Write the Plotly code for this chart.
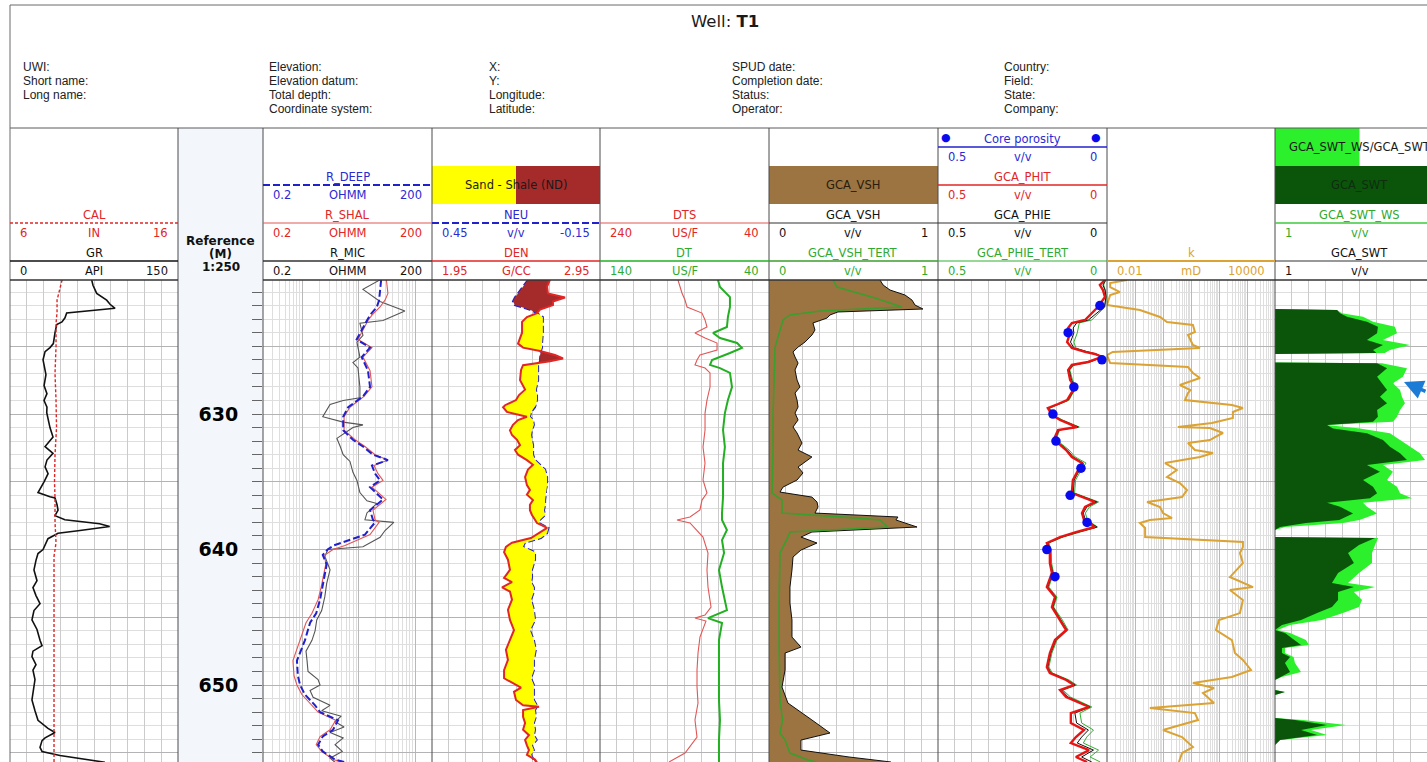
import plotly.graph_objects as go

# ---------------- log curves (depth in metres) ----------------
GR_DEPTH = [620.1, 620.5, 621.1, 621.6, 621.9, 622.2, 622.55, 622.9, 623.2, 623.4, 624.0, 624.8, 625.1, 625.4,
            626.0, 626.5, 627.1, 627.9, 628.5, 629.0, 629.5, 629.9, 630.4, 631.0, 631.7, 632.4, 632.9, 633.4,
            633.9, 634.4, 635.0, 635.6, 635.8, 636.1, 636.2, 636.7, 637.1, 637.5, 637.8, 638.1, 638.3, 638.6,
            638.8, 639.2, 639.7, 640.0, 640.3, 640.8, 641.5, 642.3, 642.8, 643.4, 644.0, 644.5, 645.2, 645.9,
            646.7, 647.1, 647.5, 647.9, 648.5, 648.9, 649.6, 650.4, 651.1, 651.9, 652.6, 653.2, 653.5, 653.9,
            654.1, 654.6, 654.9, 655.2, 655.5, 655.7]
GR = [72.9, 74.1, 77.4, 86.3, 89.3, 93.8, 50.6, 49.1, 46.4, 41.7, 40.2, 38.7, 35.7, 31.3, 29.5, 30.4, 32.1,
      30.4, 33.0, 30.4, 33.0, 32.8, 34.0, 35.7, 38.4, 31.3, 38.4, 33.0, 31.3, 34.0, 30.4, 26.8, 25.0, 35.7,
      40.2, 42.0, 42.9, 40.2, 49.0, 80.0, 89.0, 62.5, 42.9, 33.9, 31.3, 29.5, 25.0, 23.2, 21.4, 24.1, 20.5,
      23.2, 26.8, 21.4, 19.6, 24.1, 26.8, 28.6, 20.5, 19.6, 23.2, 20.5, 22.3, 20.5, 19.6, 22.3, 25.0, 33.9,
      40.2, 31.3, 28.6, 26.8, 28.6, 44.6, 71.4, 84.8]

CAL_DEPTH = [620.1, 620.8, 621.6, 622.5, 623.3, 625.0, 627.0, 629.0, 631.0, 633.0, 635.0, 636.2, 638.0,
             639.5, 640.5, 645.0, 650.0, 655.7]
CAL = [9.10, 8.98, 8.80, 8.80, 8.74, 8.74, 8.68, 8.74, 8.77, 8.68, 8.65, 8.68, 8.68, 8.74, 8.62, 8.62,
       8.62, 8.62]

RES_DEPTH = [620.1, 621.1, 621.6, 622.1, 622.7, 623.1, 623.8, 624.5, 625.1, 625.8, 626.8, 628.0, 628.7,
             629.5, 630.2, 631.2, 631.9, 632.4, 633.0, 633.4, 633.8, 634.4, 634.9, 635.4, 636.3, 637.1,
             637.8, 638.0, 638.9, 639.7, 640.0, 640.4, 641.1, 641.9, 642.8, 643.7, 644.7, 645.4, 646.7,
             648.2, 649.3, 650.0, 650.7, 651.5, 652.0, 652.6, 653.3, 653.8, 654.4, 654.9, 655.5, 655.7]
R_DEEP = [25, 23.9, 23, 21, 15.9, 14, 11.3, 9.2, 15.9, 11.3, 14.6, 15.9, 11.9, 6.5, 5.3, 5.3, 7.9, 11.9,
          17.9, 33, 17.2, 19.5, 23.9, 15.9, 27, 15.9, 17.9, 19.5, 12.9, 3.6, 2.8, 2.3, 2.7, 2.5, 2.3, 2.06,
          1.76, 1.37, 1.11, 0.8, 0.83, 0.91, 1.11, 1.68, 2.06, 4.3, 3.5, 2.3, 1.9, 2.3, 3.8, 5.7]
R_SHAL = [31, 33, 29.3, 23.9, 17.2, 14.6, 11.9, 9.7, 17.2, 11.9, 15.9, 17.2, 12.4, 7, 5.5, 5.5, 8.6, 12.9,
          19.5, 33, 18.7, 22, 27, 17.2, 30.5, 17.9, 19.5, 23, 15.9, 5.7, 3.5, 2.5, 2.6, 2.4, 2.15, 1.9,
          1.48, 1.16, 0.91, 0.68, 0.71, 0.8, 0.98, 1.48, 1.9, 3.9, 3.1, 2.06, 1.76, 2.2, 3.5, 5.3]

MIC_DEPTH = [620.1, 620.8, 621.7, 622.4, 623.1, 623.3, 624.2, 624.7, 625.8, 626.2, 626.6, 628.0, 628.8,
             629.0, 629.3, 630.2, 630.6, 630.8, 631.0, 631.8, 632.4, 633.0, 633.5, 634.3, 634.9, 635.8,
             636.4, 636.6, 637.3, 637.8, 638.0, 638.6, 639.1, 639.8, 640.0, 640.5, 641.5, 642.5, 643.5,
             644.5, 645.2, 646.0, 646.7, 647.5, 648.2, 649.0, 649.6, 650.0, 650.4, 650.9, 651.5, 651.9,
             652.3, 652.7, 653.1, 653.5, 653.9, 654.4, 654.9, 655.4, 655.7]
R_MIC = [23.9, 11.9, 23.9, 66, 27, 10.5, 11.9, 9.3, 10.5, 7.9, 9.7, 10.5, 10.5, 5.3, 3.1, 2.3, 5.3, 11.9,
         7.9, 4.1, 4.7, 5.3, 7.0, 7.9, 9.3, 10.5, 14, 21, 14, 12.9, 42, 29.3, 24, 11.9, 2.85, 2.5, 3.1, 2.7,
         2.5, 2.2, 1.8, 1.68, 1.48, 1.16, 1.21, 1.26, 1.9, 2.06, 1.37, 1.55, 3.1, 2.2, 4.9, 3.8, 5.5, 3.1,
         5.3, 3.8, 5.1, 3.1, 3.8]

ND_DEPTH = [620.1, 620.6, 621.1, 621.4, 621.7, 621.96, 622.3, 622.55, 622.85, 623.2, 624.0, 624.8, 625.1,
            625.35, 625.65, 625.9, 626.1, 626.4, 626.75, 627.5, 628.2, 628.6, 628.97, 629.35, 629.5, 629.85,
            630.2, 630.45, 630.8, 631.2, 631.55, 631.9, 632.3, 632.65, 633.0, 633.4, 633.75, 634.1, 634.65,
            635.25, 635.6, 635.95, 636.35, 636.7, 637.1, 637.45, 637.8, 638.05, 638.4, 638.8, 639.15, 639.5,
            639.8, 640.2, 640.75, 641.5, 642.1, 642.4, 642.8, 643.1, 643.7, 644.45, 645.2, 645.95, 646.7,
            647.4, 648.15, 648.9, 649.5, 650.0, 650.2, 650.5, 651.1, 651.5, 651.6, 651.85, 652.35, 652.8,
            653.3, 653.7, 654.05, 654.45, 654.8, 655.15, 655.5, 655.7]
DEN = [2.652, 2.635, 2.640, 2.742, 2.670, 2.670, 2.593, 2.575, 2.515, 2.486, 2.486, 2.462, 2.492, 2.593,
       2.682, 2.730, 2.652, 2.492, 2.480, 2.474, 2.504, 2.468, 2.450, 2.385, 2.373, 2.396, 2.515, 2.462,
       2.432, 2.414, 2.426, 2.456, 2.474, 2.444, 2.462, 2.515, 2.551, 2.521, 2.504, 2.515, 2.533, 2.515,
       2.551, 2.533, 2.533, 2.545, 2.563, 2.575, 2.635, 2.587, 2.539, 2.426, 2.390, 2.379, 2.402, 2.414,
       2.379, 2.426, 2.367, 2.414, 2.426, 2.402, 2.414, 2.438, 2.414, 2.390, 2.402, 2.379, 2.379, 2.450,
       2.480, 2.438, 2.450, 2.492, 2.587, 2.492, 2.492, 2.504, 2.492, 2.527, 2.504, 2.515, 2.527, 2.515,
       2.563, 2.575]
NEU = [0.107, 0.125, 0.143, 0.154, 0.161, 0.154, 0.100, 0.075, 0.054, 0.054, 0.054, 0.057, 0.057, 0.061,
       0.064, 0.064, 0.064, 0.071, 0.071, 0.071, 0.079, 0.075, 0.075, 0.079, 0.082, 0.096, 0.100, 0.089,
       0.086, 0.093, 0.096, 0.093, 0.089, 0.089, 0.089, 0.082, 0.064, 0.046, 0.039, 0.039, 0.043, 0.043,
       0.046, 0.046, 0.050, 0.046, 0.064, 0.068, 0.034, 0.039, 0.061, 0.118, 0.125, 0.082, 0.082, 0.093,
       0.093, 0.096, 0.086, 0.086, 0.096, 0.086, 0.082, 0.100, 0.086, 0.079, 0.086, 0.086, 0.096, 0.086,
       0.086, 0.086, 0.086, 0.075, 0.075, 0.082, 0.079, 0.086, 0.082, 0.086, 0.076, 0.093, 0.086, 0.096,
       0.086, 0.082]

DTS_DEPTH = [620.11, 620.63, 621.07, 621.59, 622.10, 622.55, 623.06, 623.58, 624.02, 624.39, 624.76, 625.28,
             625.65, 626.01, 626.38, 626.61, 626.97, 628.01, 628.97, 629.93, 631.18, 632.44, 633.62, 634.87,
             635.83, 636.35, 637.08, 637.60, 637.82, 638.04, 639.08, 640.26, 641.51, 642.77, 644.24, 644.83,
             645.06, 645.28, 646.46, 647.64, 648.89, 650.15, 651.33, 652.58, 653.84, 655.02, 655.68]
DTS = [147.7, 145.3, 143.0, 139.4, 137.0, 119.3, 115.7, 113.4, 127.6, 115.7, 101.5, 101.5, 121.7, 125.2,
       127.6, 115.7, 109.8, 109.8, 113.4, 115.7, 115.7, 118.1, 115.7, 118.1, 113.4, 119.3, 121.7, 133.5,
       148.9, 133.5, 118.1, 112.2, 113.4, 112.2, 108.6, 115.7, 127.6, 114.6, 121.7, 124.0, 125.2, 125.2,
       124.0, 127.6, 125.2, 139.4, 158.3]

DT_DEPTH = [620.11, 620.63, 621.37, 622.10, 622.84, 623.58, 624.02, 624.39, 624.76, 625.13, 625.50, 626.01,
            626.38, 626.61, 626.97, 628.01, 628.97, 629.93, 631.18, 632.44, 633.62, 634.87, 636.13, 637.31,
            637.82, 638.56, 639.30, 640.26, 641.51, 642.77, 644.47, 645.06, 645.42, 646.68, 648.89, 651.11,
            652.58, 654.06, 655.68]
DT = [70.2, 69.0, 63.1, 63.1, 64.3, 64.9, 73.1, 69.0, 58.9, 56.0, 63.1, 73.7, 74.9, 69.0, 63.1, 61.9, 64.3,
      66.1, 67.2, 66.1, 67.2, 67.2, 67.2, 67.8, 67.8, 64.9, 67.8, 66.6, 69.6, 67.8, 64.9, 76.1, 67.8, 69.6,
      69.6, 69.6, 69.0, 69.6, 69.6]

VSH_DEPTH = [620.11, 620.48, 620.85, 621.22, 621.59, 621.96, 622.25, 622.47, 622.69, 622.92, 623.28, 623.80,
             624.17, 624.69, 625.06, 625.42, 625.79, 626.24, 626.75, 627.49, 628.01, 628.45, 628.97, 629.48,
             629.93, 630.44, 630.96, 631.40, 632.14, 632.66, 633.17, 633.91, 634.35, 634.87, 635.39, 635.76,
             636.13, 636.49, 636.86, 637.31, 637.60, 637.82, 638.34, 638.71, 639.08, 639.52, 640.04, 640.55,
             641.51, 642.77, 643.95, 645.20, 646.46, 647.20, 647.64, 648.89, 650.15, 651.33, 652.58, 653.54,
             654.06, 654.80, 655.31, 655.68]
GCA_VSH = [0.657, 0.675, 0.716, 0.805, 0.846, 0.864, 0.911, 0.408, 0.361, 0.343, 0.260, 0.272, 0.254, 0.213,
           0.172, 0.142, 0.154, 0.172, 0.154, 0.166, 0.183, 0.154, 0.166, 0.172, 0.154, 0.172, 0.142, 0.166,
           0.195, 0.172, 0.254, 0.172, 0.201, 0.166, 0.083, 0.065, 0.254, 0.284, 0.290, 0.272, 0.763, 0.751,
           0.876, 0.254, 0.189, 0.284, 0.189, 0.142, 0.136, 0.124, 0.124, 0.136, 0.136, 0.189, 0.095, 0.095,
           0.077, 0.112, 0.254, 0.361, 0.189, 0.189, 0.473, 0.722]

TERT_DEPTH = [620.11, 620.63, 621.44, 622.10, 622.40, 622.69, 623.06, 623.80, 625.06, 627.49, 629.93,
              632.44, 634.87, 635.83, 636.35, 637.31, 637.68, 637.82, 638.34, 638.71, 639.08, 640.26,
              643.73, 647.42, 651.11, 652.58, 653.54, 654.06, 655.02, 655.54, 655.68]
GCA_VSH_TERT = [0.379, 0.402, 0.627, 0.787, 0.302, 0.124, 0.083, 0.065, 0.036, 0.030, 0.024, 0.024, 0.018,
                0.018, 0.077, 0.077, 0.527, 0.657, 0.704, 0.124, 0.112, 0.065, 0.060, 0.060, 0.065, 0.080,
                0.065, 0.095, 0.124, 0.231, 0.280]

PHI_DEPTH = [620.11, 620.48, 620.85, 621.37, 622.10, 622.55, 623.06, 623.28, 623.65, 624.02, 624.69, 625.13,
             625.42, 625.57, 625.79, 626.16, 626.38, 626.75, 627.49, 628.01, 628.60, 628.97, 629.26, 629.56,
             630.07, 630.44, 630.96, 631.18, 631.70, 632.14, 632.66, 633.17, 633.62, 634.13, 634.87, 635.83,
             636.49, 636.86, 637.31, 637.82, 638.34, 638.71, 639.08, 639.52, 640.04, 641.00, 641.73, 642.77,
             643.51, 644.24, 645.20, 645.94, 646.68, 647.64, 648.67, 649.11, 649.63, 650.00, 650.37, 650.89,
             651.62, 652.07, 652.80, 653.32, 653.84, 654.28, 654.80, 655.31, 655.68]
GCA_PHIT = [0.006, 0.021, 0.012, 0.006, 0.027, 0.044, 0.065, 0.104, 0.115, 0.109, 0.118, 0.104, 0.065, 0.036,
            0.015, 0.056, 0.104, 0.115, 0.109, 0.095, 0.109, 0.118, 0.145, 0.175, 0.163, 0.139, 0.089, 0.145,
            0.154, 0.145, 0.121, 0.104, 0.074, 0.086, 0.101, 0.104, 0.036, 0.065, 0.074, 0.068, 0.036, 0.092,
            0.139, 0.178, 0.169, 0.169, 0.163, 0.178, 0.154, 0.163, 0.139, 0.121, 0.154, 0.169, 0.178, 0.169,
            0.121, 0.098, 0.139, 0.121, 0.053, 0.107, 0.107, 0.068, 0.092, 0.107, 0.053, 0.092, 0.059]
GCA_PHIE = [0.004, 0.012, 0.006, 0.003, 0.008, 0.030, 0.055, 0.090, 0.100, 0.098, 0.108, 0.098, 0.060, 0.033,
            0.013, 0.052, 0.100, 0.112, 0.105, 0.092, 0.106, 0.115, 0.142, 0.172, 0.160, 0.136, 0.085, 0.142,
            0.151, 0.142, 0.117, 0.100, 0.070, 0.082, 0.097, 0.100, 0.030, 0.060, 0.070, 0.064, 0.030, 0.085,
            0.134, 0.175, 0.167, 0.167, 0.160, 0.175, 0.151, 0.160, 0.136, 0.118, 0.151, 0.166, 0.175, 0.166,
            0.117, 0.094, 0.134, 0.115, 0.050, 0.095, 0.090, 0.055, 0.075, 0.088, 0.040, 0.075, 0.045]
GCA_PHIE_TERT = [0.004, 0.010, 0.005, 0.002, 0.006, 0.025, 0.045, 0.082, 0.085, 0.088, 0.098, 0.092, 0.058,
                 0.032, 0.012, 0.050, 0.098, 0.110, 0.102, 0.090, 0.104, 0.112, 0.140, 0.170, 0.158, 0.132,
                 0.082, 0.140, 0.148, 0.138, 0.112, 0.094, 0.062, 0.076, 0.093, 0.096, 0.025, 0.052, 0.064,
                 0.058, 0.028, 0.080, 0.130, 0.172, 0.165, 0.164, 0.158, 0.172, 0.148, 0.158, 0.132, 0.115,
                 0.148, 0.163, 0.172, 0.162, 0.112, 0.090, 0.130, 0.108, 0.045, 0.080, 0.075, 0.040, 0.060,
                 0.070, 0.025, 0.050, 0.020]

CORE_DEPTH = [622, 624, 626, 628, 630, 632, 634, 636, 638, 640, 642]
CORE_POR = [0.021, 0.115, 0.015, 0.098, 0.160, 0.151, 0.077, 0.109, 0.059, 0.178, 0.154]

K_DEPTH = [620.11, 620.33, 620.63, 621.00, 621.22, 621.96, 622.32, 622.84, 623.21, 623.43, 623.95, 624.17,
           624.91, 625.13, 625.42, 625.65, 626.24, 626.53, 626.97, 627.34, 627.86, 628.23, 628.45, 628.97,
           629.34, 629.56, 629.85, 630.30, 630.66, 630.96, 631.03, 631.40, 631.70, 631.92, 632.14, 632.66,
           632.88, 633.17, 633.62, 634.13, 634.65, 635.09, 635.61, 636.13, 636.49, 636.86, 637.31, 637.68,
           637.82, 638.04, 638.41, 639.08, 639.45, 639.82, 640.26, 641.00, 642.03, 642.77, 642.99, 643.73,
           644.69, 645.20, 645.94, 646.68, 647.64, 648.15, 648.89, 649.41, 649.85, 650.22, 650.59, 651.33,
           651.70, 652.07, 652.58, 653.32, 653.84, 654.58, 655.02, 655.68]
K = [0.052, 0.013, 0.013, 0.029, 0.013, 0.010, 0.15, 0.78, 1.39, 11.7, 13.8, 7.8, 11.7, 20.9, 0.016, 0.010,
     0.013, 7.8, 11.7, 20.9, 4.0, 9.5, 7.8, 6.1, 289, 713, 313, 313, 56, 3.4, 47.6, 139, 72, 47.6, 7.8, 13.8,
     61, 20.9, 1.18, 3.1, 1.39, 4.0, 7.2, 4.8, 0.27, 0.78, 1.0, 2.1, 0.34, 0.15, 0.23, 0.23, 713, 713, 560,
     713, 246, 1640, 246, 713, 560, 100, 78, 289, 370, 713, 1390, 289, 11.7, 66, 26.8, 66, 0.34, 13.8, 17.8,
     1.0, 4.8, 11.7, 4.8, 3.7]

SW_DEPTH = [620.11, 622.25, 622.32, 622.57, 622.82, 623.19, 623.56, 624.04, 624.54, 624.91, 625.28, 625.50,
            625.57, 626.20, 626.26, 626.63, 627.25, 627.73, 628.23, 628.72, 629.21, 629.70, 630.20, 630.57,
            630.81, 631.06, 631.42, 631.92, 632.41, 632.90, 633.39, 633.76, 634.26, 634.87, 635.36, 635.85,
            636.22, 636.55, 636.84, 637.34, 637.82, 638.04, 638.34, 638.56, 639.08, 639.15, 639.67, 640.26,
            641.00, 641.73, 642.47, 642.77, 643.14, 643.73, 644.24, 644.69, 645.20, 645.57, 645.94, 646.16,
            646.68, 647.05, 647.27, 647.64, 647.93, 648.38, 649.04, 649.41, 649.63, 650.37, 650.52, 650.74,
            652.44, 652.58, 652.95, 653.32, 653.69, 654.06, 654.43, 655.68]
GCA_SWT = [1.0, 1.0, 0.633, 0.615, 0.574, 0.456, 0.391, 0.396, 0.456, 0.361, 0.420, 0.400, 1.0, 1.0, 0.396,
           0.337, 0.396, 0.367, 0.337, 0.379, 0.337, 0.396, 0.391, 0.420, 0.692, 0.657, 0.456, 0.361, 0.320,
           0.260, 0.219, 0.456, 0.379, 0.479, 0.420, 0.396, 0.438, 0.692, 0.615, 0.538, 0.620, 0.817, 0.970,
           1.0, 1.0, 0.408, 0.503, 0.568, 0.533, 0.627, 0.663, 0.533, 0.627, 0.627, 0.663, 0.751, 0.846, 0.959,
           1.0, 0.941, 0.882, 0.846, 0.959, 0.959, 0.911, 0.941, 0.911, 0.970, 1.0, 1.0, 0.941, 1.0, 1.0, 0.882,
           0.692, 0.846, 0.751, 0.970, 1.0, 1.0]
GCA_SWT_WS = [1.0, 1.0, 0.633, 0.604, 0.479, 0.420, 0.290, 0.278, 0.361, 0.201, 0.320, 0.350, 1.0, 1.0,
              0.367, 0.219, 0.243, 0.302, 0.260, 0.249, 0.231, 0.260, 0.278, 0.302, 0.692, 0.497, 0.320, 0.260,
              0.201, 0.142, 0.112, 0.361, 0.302, 0.337, 0.278, 0.260, 0.189, 0.479, 0.456, 0.396, 0.500, 0.598,
              0.940, 1.0, 1.0, 0.390, 0.408, 0.426, 0.426, 0.503, 0.568, 0.408, 0.533, 0.485, 0.503, 0.598,
              0.722, 0.911, 0.985, 0.911, 0.817, 0.799, 0.941, 0.941, 0.890, 0.882, 0.846, 0.960, 1.0, 1.0,
              0.941, 1.0, 1.0, 0.834, 0.580, 0.787, 0.692, 0.970, 1.0, 1.0]

DEPTH_MAJOR = [620, 625, 630, 635, 640, 645, 650, 655]
DEPTH_LABELS = ['', '', '630', '', '640', '', '650', '']

WELL_NAME = 'T1'
WELL_FIELDS = [
    ['UWI:', 'Short name:', 'Long name:'],
    ['Elevation:', 'Elevation datum:', 'Total depth:', 'Coordinate system:'],
    ['X:', 'Y:', 'Longitude:', 'Latitude:'],
    ['SPUD date:', 'Completion date:', 'Status:', 'Operator:'],
    ['Country:', 'Field:', 'State:', 'Company:'],
]

# ---------------- page geometry (pixels) ----------------
FIG_W, FIG_H = 1427, 762
LEFT, TOP = 10, 280
PLOT_W, PLOT_H = FIG_W - LEFT, FIG_H - TOP
D_TOP, D_BOT = 620.11, 655.68


def fx(px):
    return (px - LEFT) / PLOT_W


def fy(py):
    return (FIG_H - py) / PLOT_H


TRACK = {
    'gr': (10, 178), 'depth': (178, 263), 'res': (263, 432), 'nd': (432, 600), 'son': (600, 769),
    'vsh': (769, 938), 'por': (938, 1107), 'perm': (1107, 1275), 'sw': (1275, 1444),
}

FONT = 'DejaVu Sans'
BLUE = '#2a2ad2'
RED = '#e02626'
RED_THIN = '#e25656'
GREEN = '#2faa2f'
ORANGE = '#dba234'
BLACK = '#111111'
VSH_FILL = '#9b7442'
SAND = '#ffff00'
SHALE = '#a52a2a'
SW_DARK = '#0a550a'
SW_LIGHT = '#2bf02b'
GRID_V = '#cbcbcb'
GRID_MAJ = '#b3b3b3'
GRID_MIN = '#dedede'
FRAME = '#4a4a4a'


def dom(key):
    a, b = TRACK[key]
    return [fx(a), min(1.0, fx(b))]


def xgrid(**kw):
    d = dict(showticklabels=False, ticks='', zeroline=False, showline=False, showgrid=True,
             gridcolor=GRID_V, gridwidth=1, fixedrange=True, automargin=False)
    d.update(kw)
    return d


def xover(base, anchor, rng):
    return dict(overlaying=base, anchor=anchor, range=rng, visible=False, showgrid=False,
                zeroline=False, fixedrange=True, automargin=False)


def ygrid(anchor, **kw):
    d = dict(domain=[0, 1], anchor=anchor, range=[D_BOT, D_TOP], tickmode='array', tickvals=DEPTH_MAJOR,
             showgrid=True, gridcolor=GRID_MAJ, gridwidth=1, showticklabels=False, ticks='',
             zeroline=False, showline=False, fixedrange=True, automargin=False,
             minor=dict(tickmode='linear', tick0=620, dtick=1, showgrid=True, gridcolor=GRID_MIN,
                        gridwidth=1))
    d.update(kw)
    return d


def split_fill(depth, a_vals, b_vals):
    """Split the band between two curves into runs where a stays on one side of b."""
    runs, cur = [], None
    for i, (d, a, b) in enumerate(zip(depth, a_vals, b_vals)):
        s = a > b
        if cur is None:
            cur = [s, [d], [a], [b]]
        elif s == cur[0]:
            cur[1].append(d)
            cur[2].append(a)
            cur[3].append(b)
        else:
            d0, a0, b0 = depth[i - 1], a_vals[i - 1], b_vals[i - 1]
            t = (a0 - b0) / ((a0 - b0) - (a - b))
            dc, ac = d0 + t * (d - d0), a0 + t * (a - a0)
            cur[1].append(dc)
            cur[2].append(ac)
            cur[3].append(ac)
            runs.append(cur)
            cur = [s, [dc, d], [ac, a], [ac, b]]
    runs.append(cur)
    return runs


fig = go.Figure()

# ---- track 1: GR / CAL ----
fig.add_trace(go.Scatter(x=CAL, y=CAL_DEPTH, xaxis='x2', yaxis='y', mode='lines',
                         line=dict(color=RED, width=1.4, dash='3px,2px'), name='CAL'))
fig.add_trace(go.Scatter(x=GR, y=GR_DEPTH, xaxis='x', yaxis='y', mode='lines',
                         line=dict(color=BLACK, width=1.6), name='GR'))

# ---- track 3: resistivity ----
fig.add_trace(go.Scatter(x=R_MIC, y=MIC_DEPTH, xaxis='x3', yaxis='y2', mode='lines',
                         line=dict(color='#555555', width=1.1), name='R_MIC'))
fig.add_trace(go.Scatter(x=R_SHAL, y=RES_DEPTH, xaxis='x3', yaxis='y2', mode='lines',
                         line=dict(color=RED_THIN, width=1.1), name='R_SHAL'))
fig.add_trace(go.Scatter(x=R_DEEP, y=RES_DEPTH, xaxis='x3', yaxis='y2', mode='lines',
                         line=dict(color='#2020cc', width=2, dash='7px,3px'), name='R_DEEP'))

# ---- track 4: neutron / density with sand-shale shading ----
neu_on_den = [1.95 + (0.45 - n) / 0.6 for n in NEU]
for shale, ys, den_side, neu_side in split_fill(ND_DEPTH, DEN, neu_on_den):
    fig.add_trace(go.Scatter(x=den_side + neu_side[::-1], y=ys + ys[::-1], xaxis='x5', yaxis='y3',
                             mode='lines', fill='toself', fillcolor=SHALE if shale else SAND,
                             line=dict(width=0), hoverinfo='skip', showlegend=False))
fig.add_trace(go.Scatter(x=DEN, y=ND_DEPTH, xaxis='x5', yaxis='y3', mode='lines',
                         line=dict(color=RED, width=2), name='DEN'))
fig.add_trace(go.Scatter(x=NEU, y=ND_DEPTH, xaxis='x4', yaxis='y3', mode='lines',
                         line=dict(color='#2222cc', width=2, dash='7px,3px'), name='NEU'))

# ---- track 5: sonic ----
fig.add_trace(go.Scatter(x=DTS, y=DTS_DEPTH, xaxis='x6', yaxis='y4', mode='lines',
                         line=dict(color=RED_THIN, width=1.1), name='DTS'))
fig.add_trace(go.Scatter(x=DT, y=DT_DEPTH, xaxis='x7', yaxis='y4', mode='lines',
                         line=dict(color='#22b022', width=2), name='DT'))

# ---- track 6: shale volume ----
fig.add_trace(go.Scatter(x=GCA_VSH, y=VSH_DEPTH, xaxis='x8', yaxis='y5', mode='lines', fill='tozerox',
                         fillcolor=VSH_FILL, line=dict(color=BLACK, width=1), name='GCA_VSH'))
fig.add_trace(go.Scatter(x=GCA_VSH_TERT, y=TERT_DEPTH, xaxis='x8', yaxis='y5', mode='lines',
                         line=dict(color='#3c9e2c', width=1.6), name='GCA_VSH_TERT'))

# ---- track 7: porosity ----
fig.add_trace(go.Scatter(x=GCA_PHIE_TERT, y=PHI_DEPTH, xaxis='x9', yaxis='y6', mode='lines',
                         line=dict(color='#30b030', width=1), name='GCA_PHIE_TERT'))
fig.add_trace(go.Scatter(x=GCA_PHIE, y=PHI_DEPTH, xaxis='x9', yaxis='y6', mode='lines',
                         line=dict(color=BLACK, width=1), name='GCA_PHIE'))
fig.add_trace(go.Scatter(x=GCA_PHIT, y=PHI_DEPTH, xaxis='x9', yaxis='y6', mode='lines',
                         line=dict(color='#e81414', width=2.4), name='GCA_PHIT'))
fig.add_trace(go.Scatter(x=CORE_POR, y=CORE_DEPTH, xaxis='x9', yaxis='y6', mode='markers',
                         marker=dict(color='#0a0aee', size=9.5), cliponaxis=False, name='Core porosity'))

# ---- track 8: permeability ----
fig.add_trace(go.Scatter(x=K, y=K_DEPTH, xaxis='x10', yaxis='y7', mode='lines',
                         line=dict(color=ORANGE, width=2), name='k'))

# ---- track 9: water saturation ----
for vals, col, nm in [(GCA_SWT_WS, SW_LIGHT, 'GCA_SWT_WS'), (GCA_SWT, SW_DARK, 'GCA_SWT')]:
    fig.add_trace(go.Scatter(x=[1.0] + vals + [1.0], y=[SW_DEPTH[0]] + SW_DEPTH + [SW_DEPTH[-1]],
                             xaxis='x11', yaxis='y8', mode='lines', fill='toself', fillcolor=col,
                             line=dict(width=0), name=nm))

# ---------------- axes ----------------
sw_right = 1 - (FIG_W - TRACK['sw'][0]) / (TRACK['sw'][1] - TRACK['sw'][0])
layout_axes = dict(
    xaxis=xgrid(domain=dom('gr'), anchor='y', range=[0, 150], tick0=0, dtick=15),
    xaxis2=xover('x', 'y', [6, 16]),
    xaxis3=xgrid(domain=dom('res'), anchor='y2', type='log', range=[-0.69897, 2.30103], dtick=1,
                 gridcolor='#b9b9b9',
                 minor=dict(dtick='D1', showgrid=True, gridcolor=GRID_MIN, gridwidth=1)),
    xaxis4=xgrid(domain=dom('nd'), anchor='y3', range=[0.45, -0.15], tick0=-0.15, dtick=0.06),
    xaxis5=xover('x4', 'y3', [1.95, 2.95]),
    xaxis6=xgrid(domain=dom('son'), anchor='y4', range=[240, 40], tick0=40, dtick=20),
    xaxis7=xover('x6', 'y4', [140, 40]),
    xaxis8=xgrid(domain=dom('vsh'), anchor='y5', range=[0, 1], tick0=0, dtick=0.1),
    xaxis9=xgrid(domain=dom('por'), anchor='y6', range=[0.5, 0], tick0=0, dtick=0.05),
    xaxis10=xgrid(domain=dom('perm'), anchor='y7', type='log', range=[-2, 4], dtick=1,
                  gridcolor='#b9b9b9',
                  minor=dict(dtick='D1', showgrid=True, gridcolor=GRID_MIN, gridwidth=1)),
    xaxis11=xgrid(domain=dom('sw'), anchor='y8', range=[1, sw_right], tick0=0, dtick=0.1),
    yaxis=ygrid('x'),
    yaxis2=ygrid('x3', showticklabels=True, ticktext=DEPTH_LABELS, ticks='outside', ticklen=10,
                 tickcolor='#666666', tickwidth=1, ticklabelstandoff=10,
                 tickfont=dict(family=FONT, size=19, color='#000000', weight='bold'),
                 minor=dict(tickmode='linear', tick0=620, dtick=1, showgrid=True, gridcolor=GRID_MIN,
                            gridwidth=1, ticks='outside', ticklen=10, tickcolor='#666666', tickwidth=1)),
    yaxis3=ygrid('x4'),
    yaxis4=ygrid('x6'),
    yaxis5=ygrid('x8'),
    yaxis6=ygrid('x9'),
    yaxis7=ygrid('x10'),
    yaxis8=ygrid('x11'),
)

# ---------------- header: frames, boxes, labels ----------------
shapes, ann = [], []


def hline(x0, x1, y, color=FRAME, width=1, dash='solid'):
    shapes.append(dict(type='line', xref='paper', yref='paper', x0=fx(x0), x1=fx(x1), y0=fy(y), y1=fy(y),
                       line=dict(color=color, width=width, dash=dash)))


def vline(x, y0, y1, color=FRAME, width=1):
    shapes.append(dict(type='line', xref='paper', yref='paper', x0=fx(x), x1=fx(x), y0=fy(y0), y1=fy(y1),
                       line=dict(color=color, width=width)))


def box(x0, x1, y0, y1, color):
    shapes.append(dict(type='rect', xref='paper', yref='paper', x0=fx(x0), x1=fx(x1), y0=fy(y1), y1=fy(y0),
                       fillcolor=color, line=dict(width=0), layer='below'))


def text(x, y, s, color=BLACK, size=11.5, anchor='center', family=FONT, bold=False):
    ann.append(dict(x=fx(x), y=fy(y), xref='paper', yref='paper', text=s, showarrow=False,
                    xanchor=anchor, yanchor='middle', borderpad=0,
                    font=dict(family=family, size=size, color=color, weight='bold' if bold else 'normal')))


# depth column background
box(178, 263, 128, FIG_H, '#f3f7fc')

# well information block
hline(10, FIG_W, 5, color='#6a6a6a')
hline(10, FIG_W, 128, color='#5a5a5a')
vline(10, 5, FIG_H, color='#6a6a6a')
text(725, 22, f'Well: <b>{WELL_NAME}</b>', size=16.5, color='#1a1a1a')
for col_x, fields in zip([22, 268, 488, 731, 1003], WELL_FIELDS):
    for r, label in enumerate(fields):
        text(col_x, 67 + 14 * r, label, color='#222222', size=12, anchor='left', family='Liberation Sans')

# track separators and data top
for xb in [178, 263, 432, 600, 769, 938, 1107, 1275]:
    vline(xb, 128, FIG_H)
hline(10, 178, 280, color='#333333', width=1.3)
hline(263, FIG_W, 280, color='#333333', width=1.3)

# curve header groups: (track, group, name, colour, low, unit, high, dash, line colour, line width)
HEADERS = [
    ('gr', 2, 'CAL', RED, '6', 'IN', '16', '3px,2px', RED, 1.4),
    ('gr', 3, 'GR', BLACK, '0', 'API', '150', 'solid', BLACK, 1.3),
    ('res', 1, 'R_DEEP', BLUE, '0.2', 'OHMM', '200', '7px,3px', '#2020cc', 2),
    ('res', 2, 'R_SHAL', RED, '0.2', 'OHMM', '200', 'solid', RED_THIN, 1.2),
    ('res', 3, 'R_MIC', BLACK, '0.2', 'OHMM', '200', 'solid', '#333333', 1.3),
    ('nd', 2, 'NEU', BLUE, '0.45', 'v/v', '-0.15', '7px,3px', '#2222cc', 2),
    ('nd', 3, 'DEN', RED, '1.95', 'G/CC', '2.95', 'solid', RED, 1.6),
    ('son', 2, 'DTS', RED, '240', 'US/F', '40', 'solid', RED_THIN, 1.1),
    ('son', 3, 'DT', GREEN, '140', 'US/F', '40', 'solid', '#22b022', 1.6),
    ('vsh', 2, 'GCA_VSH', BLACK, '0', 'v/v', '1', 'solid', '#333333', 1.2),
    ('vsh', 3, 'GCA_VSH_TERT', GREEN, '0', 'v/v', '1', 'solid', '#3c9e2c', 1.4),
    ('por', 0, 'Core porosity', BLUE, '0.5', 'v/v', '0', 'solid', '#2222cc', 1.6),
    ('por', 1, 'GCA_PHIT', RED, '0.5', 'v/v', '0', 'solid', RED, 1.6),
    ('por', 2, 'GCA_PHIE', BLACK, '0.5', 'v/v', '0', 'solid', '#333333', 1.2),
    ('por', 3, 'GCA_PHIE_TERT', GREEN, '0.5', 'v/v', '0', 'solid', '#30b030', 1.2),
    ('perm', 3, 'k', ORANGE, '0.01', 'mD', '10000', 'solid', ORANGE, 1.8),
    ('sw', 2, 'GCA_SWT_WS', GREEN, '1', 'v/v', '0', 'solid', '#3cc83c', 1.4),
    ('sw', 3, 'GCA_SWT', BLACK, '1', 'v/v', '0', 'solid', '#333333', 1.2),
]
for key, g, name, col, lo, unit, hi, dash, lcol, lw in HEADERS:
    a, b = TRACK[key]
    mid = (a + b) / 2
    text(mid, 139 + 38 * g, name, color=col)
    hline(a, b, 147 + 38 * g, color=lcol, width=lw, dash=dash)
    text(a + 9, 157 + 38 * g, lo, color=col, anchor='left')
    text(mid, 157 + 38 * g, unit, color=col)
    if b - 9 < FIG_W:
        text(b - 9, 157 + 38 * g, hi, color=col, anchor='right')

# core porosity symbols
text(946, 138, '●', color='#0a0aee', size=11)
text(1096, 138, '●', color='#0a0aee', size=11)

# fill legends
box(432, 516, 166, 204, SAND)
box(516, 600, 166, 204, SHALE)
text(516, 185, 'Sand - Shale (ND)', color='#1a1a1a')
box(769, 938, 166, 204, VSH_FILL)
text(853.5, 185, 'GCA_VSH', color='#2a1c0c')
box(1275, 1359.5, 128, 166, SW_LIGHT)
text(1359.5, 147, 'GCA_SWT_WS/GCA_SWT', color='#1a1a1a')
box(1275, 1444, 166, 204, SW_DARK)
text(1359.5, 185, 'GCA_SWT', color='#0f2d0f')

# depth column title
text(220.5, 241, 'Reference', size=12, bold=True)
text(220.5, 254, '(M)', size=12, bold=True)
text(220.5, 267, '1:250', size=12, bold=True)

# pointer in the saturation track
ann.append(dict(x=fx(1404), y=fy(382), xref='paper', yref='paper', ax=36, ay=10, axref='pixel',
                ayref='pixel', text='', showarrow=True, arrowhead=2, arrowsize=1.1, arrowwidth=3.5,
                arrowcolor='#1c7cd5'))

fig.update_layout(
    width=FIG_W, height=FIG_H, autosize=False,
    margin=dict(l=LEFT, r=0, t=TOP, b=0, pad=0),
    paper_bgcolor='white', plot_bgcolor='white',
    showlegend=False, shapes=shapes, annotations=ann,
    font=dict(family=FONT, size=11.5, color=BLACK),
    **layout_axes,
)

fig.write_html('out.html')
